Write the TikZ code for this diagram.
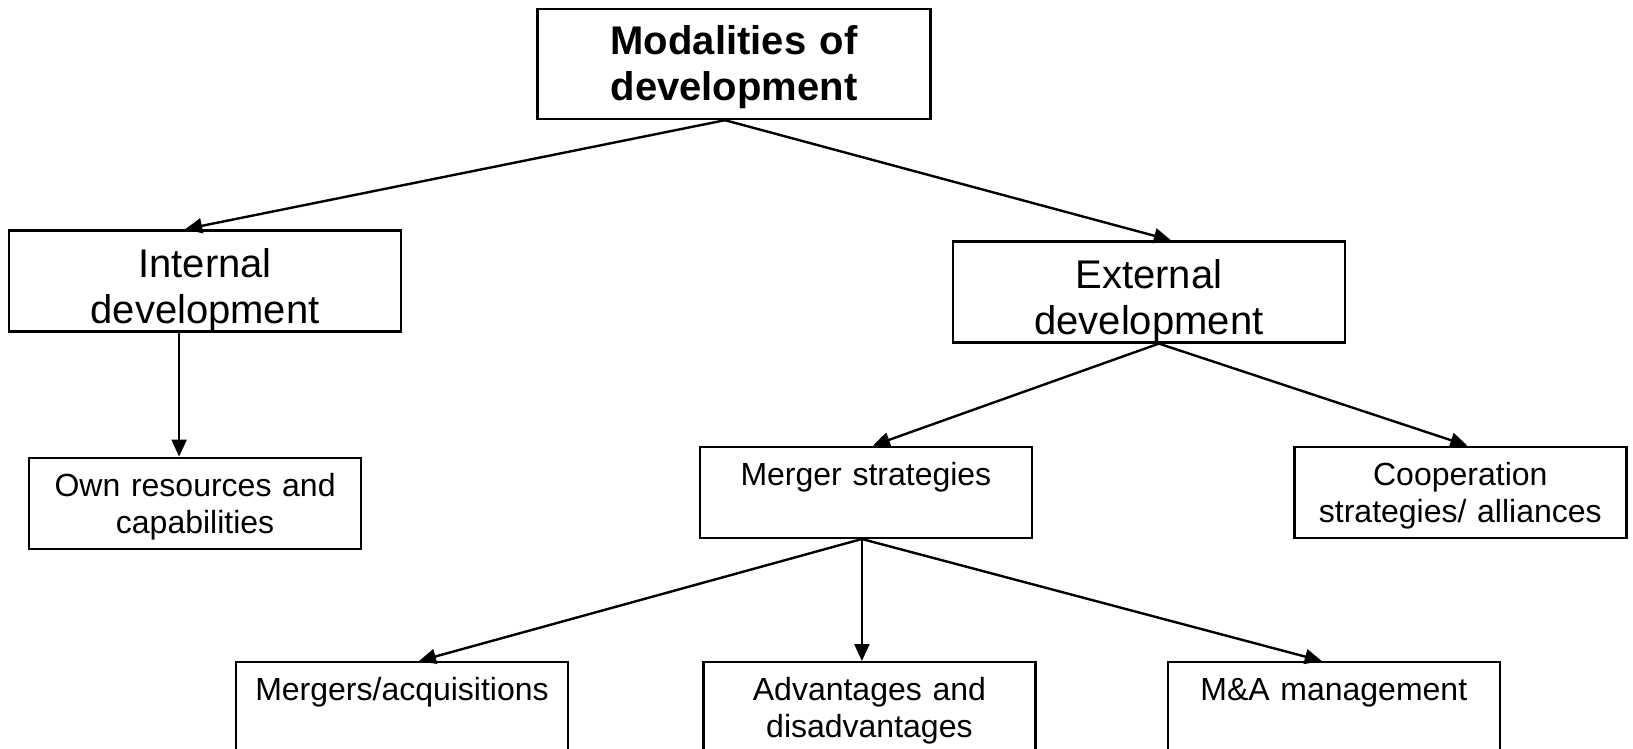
\documentclass[tikz,border=0pt]{standalone}
\usepackage{fontspec}
\setmainfont{Liberation Sans}
\usetikzlibrary{arrows.meta,positioning}

\begin{document}
\begin{tikzpicture}[
  box/.style={draw, line width=1.2pt, align=center, inner sep=0pt},
  head/.style={box, text width=196.5pt, text height=23pt, text depth=32pt, font=\bfseries\fontsize{20}{23}\selectfont},
  big/.style={box, text width=196pt, text height=23.5pt, text depth=27pt, font=\fontsize{20}{23}\selectfont},
  small/.style={box, text width=166pt, text height=19.25pt, text depth=26.25pt, font=\fontsize{16}{18.5}\selectfont},
  arr/.style={-{Triangle[length=8.5pt,width=7.5pt]}, line width=1.2pt}
]
  \useasboundingbox (0,0) rectangle (816.5pt,-374.5pt);

  % top
  \node[head] (mod) at (367pt,-32pt) {Modalities of\\development};

  % 2nd row
  \node[big, below left=54.5pt and 67pt of mod] (int) {Internal\\development};
  \node[big, below right=60pt and 10pt of mod] (ext) {External\\development};

  % 3rd row
  \node[small, below=62pt of int, xshift=-5pt] (own) {Own resources and\\capabilities};
  \node[small, below=51pt of ext, xshift=-141.5pt] (mer) {Merger strategies};
  \node[small, right=130pt of mer] (coop) {Cooperation\\strategies/ alliances};

  % 4th row
  \node[small, below=61pt of mer, xshift=1.75pt] (adv) {Advantages and\\disadvantages};
  \node[small, left=66.5pt of adv] (macq) {Mergers/acquisitions};
  \node[small, right=65pt of adv] (mam) {M\&A management};

  \draw[arr] ([xshift=-4.5pt]mod.south) -- ([xshift=-10pt]int.north);
  \draw[arr] ([xshift=-4.5pt]mod.south) -- ([xshift=11pt]ext.north);

  \draw[arr] ([xshift=-13pt]int.south) -- ([xshift=-8pt]own.north);

  \draw[arr] ([xshift=5pt]ext.south) -- ([xshift=3.5pt]mer.north);
  \draw[arr] ([xshift=5pt]ext.south) -- ([xshift=3.5pt]coop.north);

  \draw[arr] ([xshift=-2pt]mer.south) -- ([xshift=8.5pt]macq.north);
  \draw[arr] ([xshift=-2pt]mer.south) -- ([xshift=-3.75pt]adv.north);
  \draw[arr] ([xshift=-2pt]mer.south) -- ([xshift=-6pt]mam.north);
\end{tikzpicture}
\end{document}
